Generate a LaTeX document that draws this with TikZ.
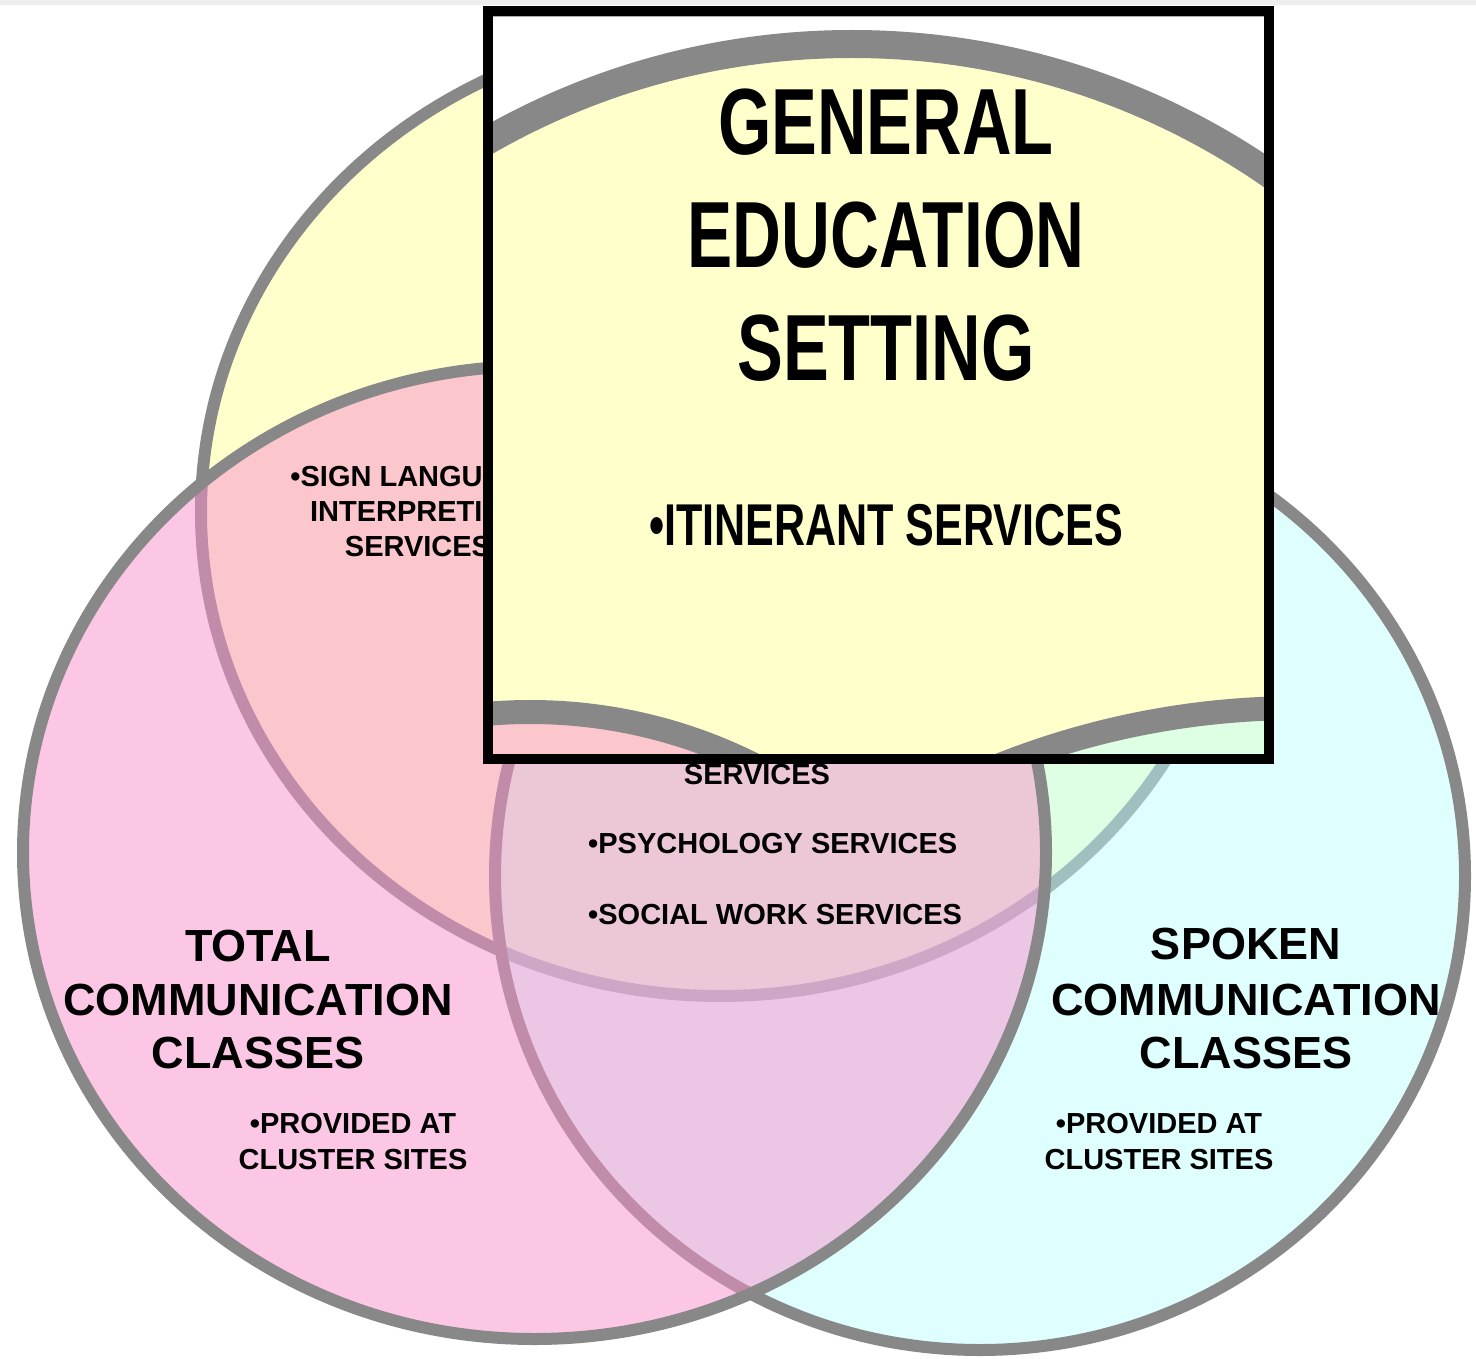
\documentclass[tikz,border=0pt]{standalone}
\usepackage{fontspec}
\setmainfont{Liberation Sans}
\definecolor{ygl}{RGB}{255,255,204}
\definecolor{cyl}{RGB}{189,255,255}
\definecolor{pkl}{RGB}{249,145,205}
\definecolor{rim}{RGB}{136,136,136}
\definecolor{strip}{RGB}{238,238,238}
\tikzset{
  rimline/.style={draw=rim, line width=12pt},
  bigtxt/.style={font=\fontsize{45}{54}\selectfont\bfseries, inner sep=0pt, anchor=base},
  smalltxt/.style={font=\fontsize{29}{35}\selectfont\bfseries, inner sep=0pt, anchor=base},
  magtxt/.style={font=\fontsize{94}{110}\selectfont\bfseries, inner sep=0pt, anchor=base},
  magsub/.style={font=\fontsize{59}{70}\selectfont\bfseries, inner sep=0pt, anchor=base},
}
\begin{document}
\begin{tikzpicture}[x=1pt,y=-1pt]
\useasboundingbox (0,0) rectangle (1476,1359);
\fill[white] (0,0) rectangle (1476,1359);
\fill[strip] (0,0) rectangle (1476,5.5);
% three sets
\fill[ygl] (720,512) ellipse [x radius=519, y radius=484];
\draw[rimline] (720,512) ellipse [x radius=519, y radius=484];
\fill[cyl, fill opacity=0.47] (980,876) ellipse [x radius=485, y radius=474];
\draw[rimline] (980,876) ellipse [x radius=485, y radius=474];
\fill[pkl, fill opacity=0.5] (534.5,852.5) ellipse [x radius=511.5, y radius=486.5];
\draw[rimline] (534.5,852.5) ellipse [x radius=511.5, y radius=486.5];
% texts
\node[smalltxt] (sl1) at (418,486) {•SIGN LANGUAGE};
\node[smalltxt] (sl2) at (418,521) {INTERPRETING};
\node[smalltxt] (sl3) at (418,556) {SERVICES};
\node[smalltxt] (sv) at (757,784) {SERVICES};
\node[smalltxt, anchor=base west] (psy) at (588,853) {•PSYCHOLOGY SERVICES};
\node[smalltxt, anchor=base west] (soc) at (588,924) {•SOCIAL WORK SERVICES};
\node[bigtxt] (tc1) at (258,961) {TOTAL};
\node[bigtxt] (tc2) at (258,1015) {COMMUNICATION};
\node[bigtxt] (tc3) at (258,1068) {CLASSES};
\node[smalltxt] (tp1) at (353,1133) {•PROVIDED AT};
\node[smalltxt] (tp2) at (353,1169) {CLUSTER SITES};
\node[bigtxt] (sc1) at (1246,959) {SPOKEN};
\node[bigtxt] (sc2) at (1246,1015) {COMMUNICATION};
\node[bigtxt] (sc3) at (1246,1068) {CLASSES};
\node[smalltxt] (sp1) at (1159,1133) {•PROVIDED AT};
\node[smalltxt] (sp2) at (1159,1169) {CLUSTER SITES};
% magnified inset
\begin{scope}
  \clip (493,16) rectangle (1264,754);
  \fill[white] (493,16) rectangle (1264,754);
  \fill[ygl] (852,779) circle [radius=735];
  \fill[cyl, fill opacity=0.47] (1300,1523) circle [radius=815];
  \fill[pkl, fill opacity=0.5] (530,1212) circle [radius=500];
  \draw[rim, line width=28pt] (852,779) circle [radius=735];
  \draw[rim, line width=24pt] (530,1212) circle [radius=500];
  \draw[rim, line width=24pt] (1300,1523) circle [radius=815];
  \draw[rim!70, line width=1.5pt] (493,16.5) -- (1264,16.5);
  \node[magtxt] (g1) at (886,155) {\scalebox{0.73}[1]{GENERAL}};
  \node[magtxt] (g2) at (886,268) {\scalebox{0.72}[1]{EDUCATION}};
  \node[magtxt] (g3) at (886,380) {\scalebox{0.73}[1]{SETTING}};
  \node[magsub] (it) at (886,545) {\scalebox{0.73}[1]{•ITINERANT SERVICES}};
\end{scope}
\draw[black, line width=10pt] (488,11) rectangle (1269,759);
\end{tikzpicture}
\end{document}
